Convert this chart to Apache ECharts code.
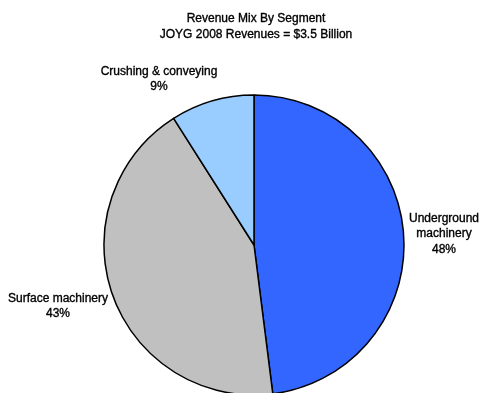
<!DOCTYPE html>
<html>
<head>
<meta charset="utf-8">
<script src="https://cdn.jsdelivr.net/npm/echarts@6/dist/echarts.min.js"></script>
<style>
  html, body { margin: 0; padding: 0; background: #fff; }
  #chart { width: 482px; height: 393px; }
</style>
</head>
<body>
<div id="chart"></div>
<script>
// Segment revenue shares (percent of 2008 revenues)
const segments = ['Underground\nmachinery', 'Surface machinery', 'Crushing & conveying'];
const shares = [48, 43, 9];
const sliceColors = ['#3366FF', '#C0C0C0', '#99CCFF'];

const titleLines = ['Revenue Mix By Segment', 'JOYG 2008 Revenues = $3.5 Billion'];

// Label anchor points for each slice, in pixels
const labelSpots = [
  { x: 444, y: 234 },
  { x: 58, y: 306 },
  { x: 159, y: 79 }
];

const FONT = '"Liberation Sans", Arial, sans-serif';

const chart = echarts.init(document.getElementById('chart'), null, { renderer: 'canvas' });

chart.setOption({
  backgroundColor: '#ffffff',
  animation: false,
  graphic: [{
    type: 'text',
    x: 256,
    y: 11,
    style: {
      text: titleLines.join('\n'),
      align: 'center',
      verticalAlign: 'top',
      fontFamily: FONT,
      fontSize: 12,
      lineHeight: 16,
      fill: '#000',
      stroke: '#000',
      lineWidth: 0.35
    }
  }],
  series: [{
    type: 'pie',
    center: [254, 245],
    radius: 150,
    startAngle: 90,
    clockwise: true,
    silent: true,
    label: {
      show: true,
      position: 'outside',
      formatter: p => p.name + '\n' + p.value + '%',
      fontFamily: FONT,
      fontSize: 12,
      lineHeight: 15.5,
      color: '#000',
      textBorderColor: '#000',
      textBorderWidth: 0.35,
      align: 'center',
      overflow: 'none'
    },
    labelLine: { show: false },
    labelLayout: p => {
      const s = labelSpots[p.dataIndex];
      return { x: s.x, y: s.y, align: 'center', verticalAlign: 'middle' };
    },
    itemStyle: { borderColor: '#000', borderWidth: 1.5 },
    data: segments.map((name, i) => ({
      name: name,
      value: shares[i],
      itemStyle: { color: sliceColors[i] }
    }))
  }]
});
</script>
</body>
</html>
